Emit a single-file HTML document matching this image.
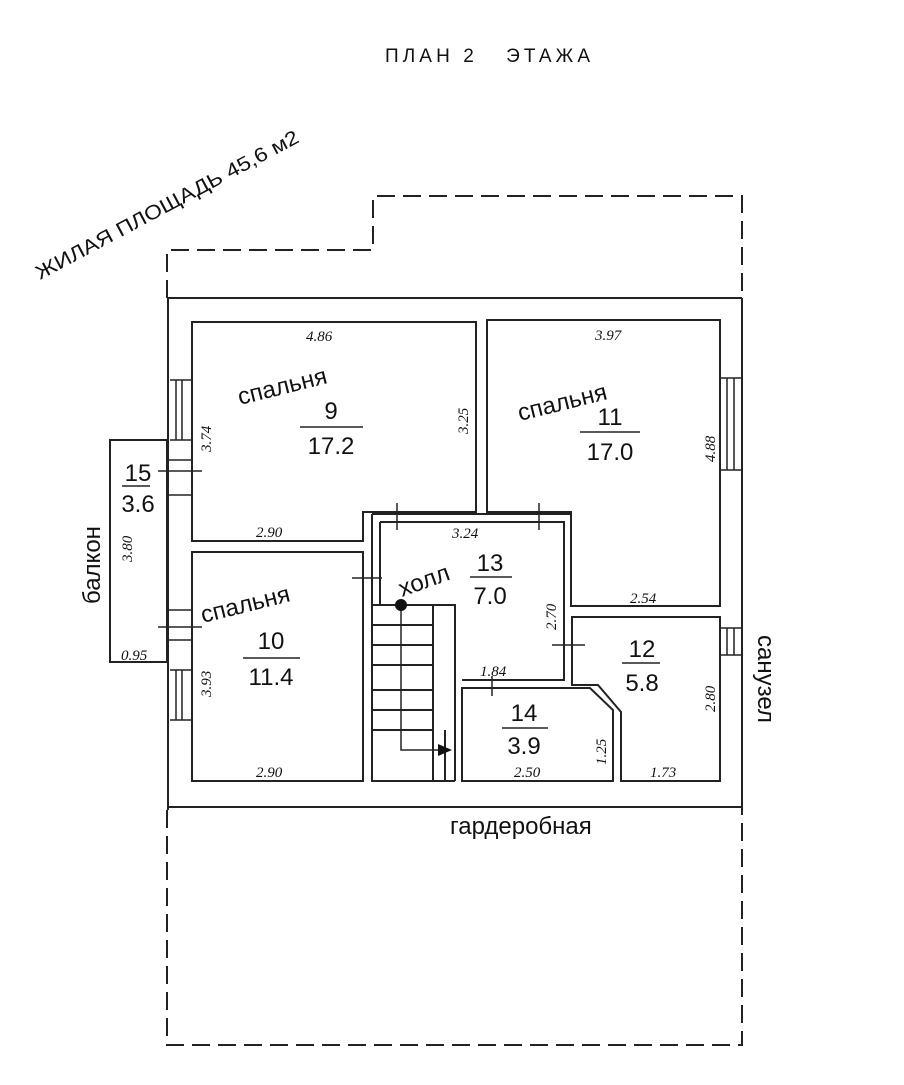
<!DOCTYPE html>
<html><head><meta charset="utf-8"><style>
body{margin:0;background:#fff}
svg{display:block}
text{font-family:"Liberation Sans",sans-serif;fill:#111}
.d{font-family:"Liberation Serif",serif;font-style:italic;font-size:15px}
.n{font-size:24px}
.l{font-size:24px}
</style></head><body>
<svg width="904" height="1085" viewBox="0 0 904 1085" xmlns="http://www.w3.org/2000/svg">
<g fill="none" stroke="#222" stroke-width="2">
<path d="M167,298 V250 H373 V196 H742 V298" stroke-dasharray="18,8"/>
<path d="M167,810 V1045 H742 V810" stroke-dasharray="18,8"/>
<line x1="167" y1="298" x2="742" y2="298"/>
<line x1="167" y1="807" x2="742" y2="807"/>
<line x1="168" y1="298" x2="168" y2="810"/>
<line x1="742" y1="298" x2="742" y2="810"/>
<path d="M192,322 H476 V512 H363 V541 H192 Z"/>
<path d="M192,552 H363 V781 H192 Z"/>
<path d="M372,514 H571 V522 M372,514 V781 H455 M380,522 H564 V680 H462" />
<path d="M380,522 V605"/>
<path d="M372,605 H455 V781"/>
<path d="M372,625 H433 M372,645 H433 M372,665 H433 M372,690 H433 M372,710 H433 M372,730 H433"/>
<path d="M433,605 V781 M445,730 V781"/>
<path d="M401,605 V750 H448" stroke-width="1.5"/>
<path d="M487,320 H720 V606 H571 V512 H487 Z"/>
<path d="M572,617 H720 V781 H621 V712 L598,685 H572 Z"/>
<path d="M462,688 H590 L613,710 V781 H462 Z"/>
<path d="M110,440 H167 V662 H110 Z"/>
<path d="M170,380 H192 M170,440 H192 M176,380 V440 M182,380 V440 M170,670 H192 M170,720 H192 M176,670 V720 M182,670 V720" stroke-width="1.5"/>
<path d="M168,460 H192 M168,495 H192 M168,610 H192 M168,640 H192" stroke-width="1.5"/>
<path d="M720,378 H742 M720,470 H742 M727,378 V470 M734,378 V470 M720,628 H742 M720,655 H742 M727,628 V655 M734,628 V655" stroke-width="1.5"/>
<path d="M158,471 H202 M158,627 H202 M352,578 H382 M397,503 V530 M539,503 V530 M552,645 H585 M492,676 V696" stroke-width="1.5"/>
<path d="M300,427 H363 M580,432 H640 M243,658 H300 M122,486 H150 M470,577 H512 M622,663 H660 M502,728 H548" stroke-width="1.5"/>
</g>
<circle cx="401" cy="605" r="6" fill="#111"/>
<polygon points="438,744 452,750 438,756" fill="#111"/>
<text x="385" y="62" font-size="19" xml:space="preserve" textLength="205" lengthAdjust="spacing">ПЛАН 2   ЭТАЖА</text>
<text transform="translate(40,280) rotate(-28)" font-size="20" textLength="295" lengthAdjust="spacingAndGlyphs">ЖИЛАЯ ПЛОЩАДЬ 45,6 м2</text>
<text class="l" transform="translate(240,405) rotate(-14)">спальня</text>
<text class="l" transform="translate(520,421) rotate(-14)">спальня</text>
<text class="l" transform="translate(203,623) rotate(-14)">спальня</text>
<text class="l" transform="translate(402,597) rotate(-20)">холл</text>
<text class="l" transform="translate(100,604) rotate(-90)">балкон</text>
<text class="l" transform="translate(758,635) rotate(90)">санузел</text>
<text class="l" x="450" y="834" font-size="21">гардеробная</text>
<text class="n" x="331" y="419" text-anchor="middle">9</text>
<text class="n" x="331" y="454" text-anchor="middle">17.2</text>
<text class="n" x="610" y="425" text-anchor="middle">11</text>
<text class="n" x="610" y="460" text-anchor="middle">17.0</text>
<text class="n" x="271" y="649" text-anchor="middle">10</text>
<text class="n" x="271" y="685" text-anchor="middle">11.4</text>
<text class="n" x="138" y="481" text-anchor="middle">15</text>
<text class="n" x="138" y="512" text-anchor="middle">3.6</text>
<text class="n" x="490" y="571" text-anchor="middle">13</text>
<text class="n" x="490" y="604" text-anchor="middle">7.0</text>
<text class="n" x="642" y="657" text-anchor="middle">12</text>
<text class="n" x="642" y="691" text-anchor="middle">5.8</text>
<text class="n" x="524" y="721" text-anchor="middle">14</text>
<text class="n" x="524" y="754" text-anchor="middle">3.9</text>
<text class="d" x="306" y="341">4.86</text>
<text class="d" x="595" y="340">3.97</text>
<text class="d" x="256" y="537">2.90</text>
<text class="d" x="256" y="777">2.90</text>
<text class="d" x="452" y="538">3.24</text>
<text class="d" x="630" y="603">2.54</text>
<text class="d" x="480" y="676">1.84</text>
<text class="d" x="514" y="777">2.50</text>
<text class="d" x="650" y="777">1.73</text>
<text class="d" x="121" y="660">0.95</text>
<text class="d" transform="translate(211,452) rotate(-90)">3.74</text>
<text class="d" transform="translate(468,434) rotate(-90)">3.25</text>
<text class="d" transform="translate(715,462) rotate(-90)">4.88</text>
<text class="d" transform="translate(132,562) rotate(-90)">3.80</text>
<text class="d" transform="translate(211,697) rotate(-90)">3.93</text>
<text class="d" transform="translate(556,630) rotate(-90)">2.70</text>
<text class="d" transform="translate(715,712) rotate(-90)">2.80</text>
<text class="d" transform="translate(606,765) rotate(-90)">1.25</text>
</svg>
</body></html>
